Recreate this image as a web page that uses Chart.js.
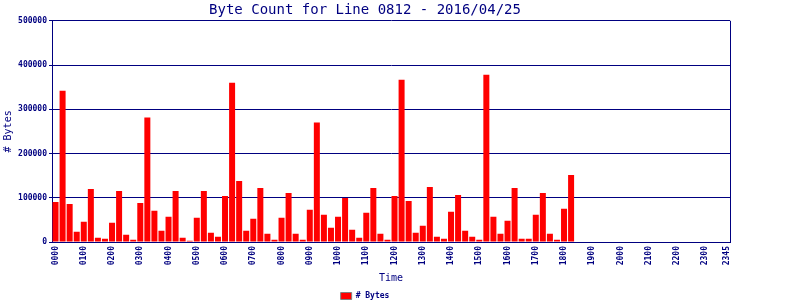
<!DOCTYPE html>
<html>
<head>
<meta charset="utf-8">
<script src="https://cdn.jsdelivr.net/npm/chart.js@4/dist/chart.umd.min.js"></script>
<style>
  html, body { margin: 0; padding: 0; background: #fff; }
  #wrap { width: 800px; height: 300px; }
</style>
</head>
<body>
<div id="wrap"><canvas id="byteChart" width="800" height="300"></canvas></div>
<script>
// 15 minute slots, 0000 .. 2345
const timeSlots = [];
for (let h = 0; h < 24; h++) {
  for (let m = 0; m < 60; m += 15) {
    timeSlots.push(String(h).padStart(2, '0') + String(m).padStart(2, '0'));
  }
}

// byte counts (0000 .. 1815), nothing after that
const byteCounts = [
  90600, 342000, 86000, 23000, 45700, 120000, 9700, 7500,
  43400, 115000, 16500, 5200, 88400, 281600, 70400, 25500,
  57000, 115000, 9700, 3000, 54700, 115000, 21000, 12000,
  104000, 360000, 137800, 25500, 52400, 122000, 18700, 5200,
  54700, 110900, 18700, 5200, 72700, 270400, 61400, 32200,
  57000, 99600, 27700, 9700, 65900, 122000, 18700, 5200,
  104000, 367000, 92900, 21000, 36700, 124300, 12000, 7500,
  68200, 106400, 25500, 12000, 5200, 378300, 57000, 18700,
  47900, 122000, 7500, 7500, 61400, 110900, 18700, 5200,
  74900, 151300
];
while (byteCounts.length < timeSlots.length) byteCounts.push(0);

const yTicks = [0, 100000, 200000, 300000, 400000, 500000];

const NAVY = '#000080';
const MONO = '"DejaVu Sans Mono", "Liberation Mono", monospace';

// right edge of the plot box
const frameBox = {
  id: 'frameBox',
  afterDraw(chart) {
    const { ctx, chartArea } = chart;
    ctx.save();
    ctx.strokeStyle = NAVY;
    ctx.lineWidth = 1;
    ctx.beginPath();
    ctx.moveTo(Math.round(chartArea.right) + 0.5, chartArea.top);
    ctx.lineTo(Math.round(chartArea.right) + 0.5, chartArea.bottom);
    ctx.stroke();
    ctx.restore();
  }
};

new Chart(document.getElementById('byteChart'), {
  type: 'bar',
  data: {
    labels: timeSlots,
    datasets: [{
      label: '# Bytes',
      data: byteCounts,
      backgroundColor: '#FF0000',
      borderWidth: 0,
      barPercentage: 0.85,
      categoryPercentage: 1
    }]
  },
  options: {
    responsive: false,
    animation: false,
    layout: { padding: { left: 0, right: 70, top: 0, bottom: 0 } },
    scales: {
      x: {
        afterFit: function(scale) {
          scale.height = 44;
        },
        grid: { display: false, drawTicks: false },
        border: { color: NAVY, width: 1 },
        ticks: {
          autoSkip: false,
          minRotation: 90,
          maxRotation: 90,
          padding: 4,
          color: NAVY,
          font: { family: MONO, size: 8, weight: 'bold' },
          callback: function(value, index) {
            if (index % 4 === 0 || index === timeSlots.length - 1) return timeSlots[index];
            return null;
          }
        },
        title: {
          display: true,
          text: 'Time',
          color: NAVY,
          font: { family: MONO, size: 10 },
          padding: { top: 0, bottom: 2 }
        }
      },
      y: {
        min: 0,
        max: 500000,
        afterBuildTicks: function(scale) {
          scale.ticks = yTicks.map(v => ({ value: v }));
        },
        afterFit: function(scale) {
          scale.width = 52;
        },
        grid: { color: NAVY, lineWidth: 1, tickLength: 3 },
        border: { color: NAVY, width: 1 },
        ticks: {
          padding: 2,
          color: NAVY,
          font: { family: MONO, size: 8, weight: 'bold' },
          callback: function(value) {
            return String(value);
          }
        },
        title: {
          display: true,
          text: '# Bytes',
          color: NAVY,
          font: { family: MONO, size: 10 },
          padding: { top: 2, bottom: 0 }
        }
      }
    },
    plugins: {
      title: {
        display: true,
        text: 'Byte Count for Line 0812 - 2016/04/25',
        color: NAVY,
        font: { family: MONO, size: 14, weight: 'normal' },
        padding: { top: 2, bottom: 2 }
      },
      legend: {
        position: 'bottom',
        maxHeight: 14,
        labels: {
          color: NAVY,
          font: { family: MONO, size: 8, weight: 'bold' },
          boxWidth: 11,
          boxHeight: 7,
          padding: 6,
          generateLabels: function(chart) {
            return [{
              text: '# Bytes',
              fillStyle: '#FF0000',
              strokeStyle: '#808080',
              lineWidth: 1,
              fontColor: NAVY,
              datasetIndex: 0
            }];
          }
        }
      },
      tooltip: { enabled: false }
    }
  },
  plugins: [frameBox]
});
</script>
</body>
</html>
